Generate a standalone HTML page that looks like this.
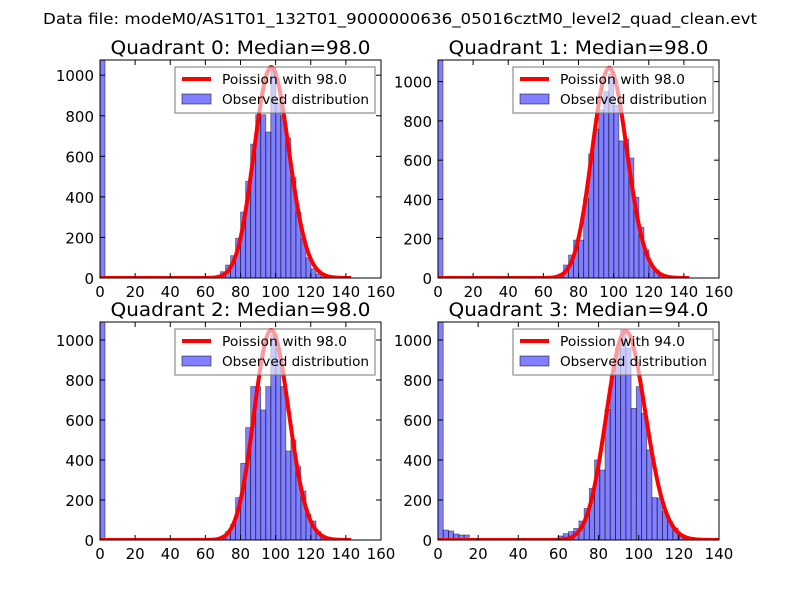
<!DOCTYPE html>
<html><head><meta charset="utf-8"><style>
body{margin:0;background:#fff}
svg{display:block;font-family:"DejaVu Sans","Liberation Sans",sans-serif}
</style></head><body>
<svg id="fig" width="800" height="600" viewBox="0 0 800 600">
<rect width="800" height="600" fill="#fff"/>
<text x="400" y="24" text-anchor="middle" font-size="15" textLength="714" lengthAdjust="spacingAndGlyphs">Data file: modeM0/AS1T01_132T01_9000000636_05016cztM0_level2_quad_clean.evt</text>
</svg>
<script>
const titles = ["Quadrant 0: Median=98.0","Quadrant 1: Median=98.0","Quadrant 2: Median=98.0","Quadrant 3: Median=94.0"];
const medians = [98, 98, 98, 94];
const binWidths = [2.86, 2.86, 2.86, 2.6];
const xMaxes = [160, 160, 160, 140];
const yMaxes = [1075, 1110, 1090, 1090];
const xTicks0 = [0,20,40,60,80,100,120,140,160];
const xTicks3 = [0,20,40,60,80,100,120,140];
const yTicks = [0,200,400,600,800,1000];
const curveScale = [25800, 26550, 26050, 25400];
const counts0 = {0:3000,20:5,23:10,24:31,25:64,26:110,27:196,28:325,29:477,30:660,31:805,32:805,33:720,34:1035,35:860,36:800,37:690,38:495,39:325,40:196,41:100,42:45,43:20,44:6};
const counts1 = {0:3000,24:20,25:66,26:117,27:193,28:193,29:406,30:632,31:758,32:855,33:949,34:1040,35:880,36:698,37:708,38:611,39:411,40:258,41:143,42:63,43:41,44:17};
const counts2 = {0:3000,24:15,25:42,26:78,27:212,28:383,29:562,30:767,31:767,32:650,33:767,34:1025,35:958,36:767,37:445,38:500,39:367,40:245,41:130,42:95,43:42,44:10};
const counts3 = {0:3000,1:50,2:45,3:30,4:25,5:25,11:5,18:8,22:8,23:20,24:32,25:42,26:58,27:95,28:158,29:258,30:400,31:350,32:653,33:825,34:958,35:1050,36:960,37:658,38:767,39:633,40:450,41:212,42:210,43:142,44:92,45:60,46:20,47:8};
const allCounts = [counts0, counts1, counts2, counts3];
const boxes = [[100,60,381,278],[438,60,719,278],[100,322,381,540],[438,322,719,540]];

const NS = "http://www.w3.org/2000/svg";
const fig = document.getElementById('fig');
function mk(tag, attrs, parent){const e=document.createElementNS(NS,tag);for(const k in attrs)e.setAttribute(k,attrs[k]);(parent||fig).appendChild(e);return e;}
function lgamma(z){const c=[76.18009172947146,-86.50532032941677,24.01409824083091,-1.231739572450155,0.1208650973866179e-2,-0.5395239384953e-5];let x=z,y=z,t=x+5.5;t-=(x+0.5)*Math.log(t);let s=1.000000000190015;for(let j=0;j<6;j++)s+=c[j]/++y;return -t+Math.log(2.5066282746310005*s/x);}
function pois(k,mu){return Math.exp(k*Math.log(mu)-mu-lgamma(k+1));}

for(let q=0;q<4;q++){
  const [L,T,R,B]=boxes[q];
  const xs=v=>L+(v/xMaxes[q])*(R-L);
  const ys=v=>B-(Math.min(v,yMaxes[q]*1.05)/yMaxes[q])*(B-T);
  const g=mk('g',{});
  
  
  const clipId='clip'+q;
  const cp=mk('clipPath',{id:clipId},g);mk('rect',{x:L,y:T,width:R-L,height:B-T},cp);
  const plot=mk('g',{'clip-path':'url(#'+clipId+')'},g);
  const c=allCounts[q], bw=binWidths[q];
  for(const k in c){
    const x0=xs(k*bw), x1=xs((+k+1)*bw);
    const r=mk('rect',{x:x0,y:ys(c[k]),width:x1-x0,height:B-ys(c[k]),fill:'rgba(0,0,255,0.5)',stroke:'#000','stroke-opacity':0.5,'stroke-width':0.8},plot);
    
    
  }
  let d='';
  const xend = q===3?140:143;
  for(let v=0;v<=xend;v+=0.5){const y=curveScale[q]*pois(v,medians[q]);d+=(v?'L':'M')+xs(v).toFixed(2)+','+ys(y).toFixed(2);}
  const p=mk('path',{d:d,fill:'none',stroke:'#f00','stroke-width':4,'stroke-linejoin':'round'},plot);
  
  
  mk('rect',{x:L,y:T,width:R-L,height:B-T,fill:'none',stroke:'#000','stroke-width':1},g);
  const xt=q===3?xTicks3:xTicks0;
  xt.forEach(t=>{const x=xs(t);mk('line',{x1:x,x2:x,y1:B,y2:B-5,stroke:'#000'},g);mk('line',{x1:x,x2:x,y1:T,y2:T+5,stroke:'#000'},g);
    const tx=mk('text',{x:x,y:B+19,'text-anchor':'middle','font-size':15},g);tx.textContent=t;
    
    });
  yTicks.forEach(t=>{const y=ys(t);mk('line',{x1:L,x2:L+5,y1:y,y2:y,stroke:'#000'},g);mk('line',{x1:R,x2:R-5,y1:y,y2:y,stroke:'#000'},g);
    const tx=mk('text',{x:L-6,y:y+6,'text-anchor':'end','font-size':15},g);tx.textContent=t;
    
    });
  const ti=mk('text',{x:(L+R)/2,y:T-6,'text-anchor':'middle','font-size':19,textLength:260,lengthAdjust:'spacingAndGlyphs'},g);ti.textContent=titles[q];
  
  
  const lg=mk('g',{},g);
  
  
  const lx=L+75, ly=T+7;
  mk('rect',{x:lx,y:ly,width:200,height:46,fill:'rgba(255,255,255,0.6)',stroke:'#777','stroke-width':1},lg);
  mk('line',{x1:lx+7,x2:lx+36,y1:ly+12,y2:ly+12,stroke:'#f00','stroke-width':4},lg);
  const t1=mk('text',{x:lx+47,y:ly+17,'font-size':13,textLength:125,lengthAdjust:'spacingAndGlyphs'},lg);t1.textContent='Poission with '+medians[q].toFixed(1);
  mk('rect',{x:lx+7,y:ly+27,width:29,height:10,fill:'rgba(0,0,255,0.5)',stroke:'#000','stroke-opacity':0.5},lg);
  const t2=mk('text',{x:lx+47,y:ly+37,'font-size':13,textLength:147,lengthAdjust:'spacingAndGlyphs'},lg);t2.textContent='Observed distribution';
}
</script>
</body></html>
